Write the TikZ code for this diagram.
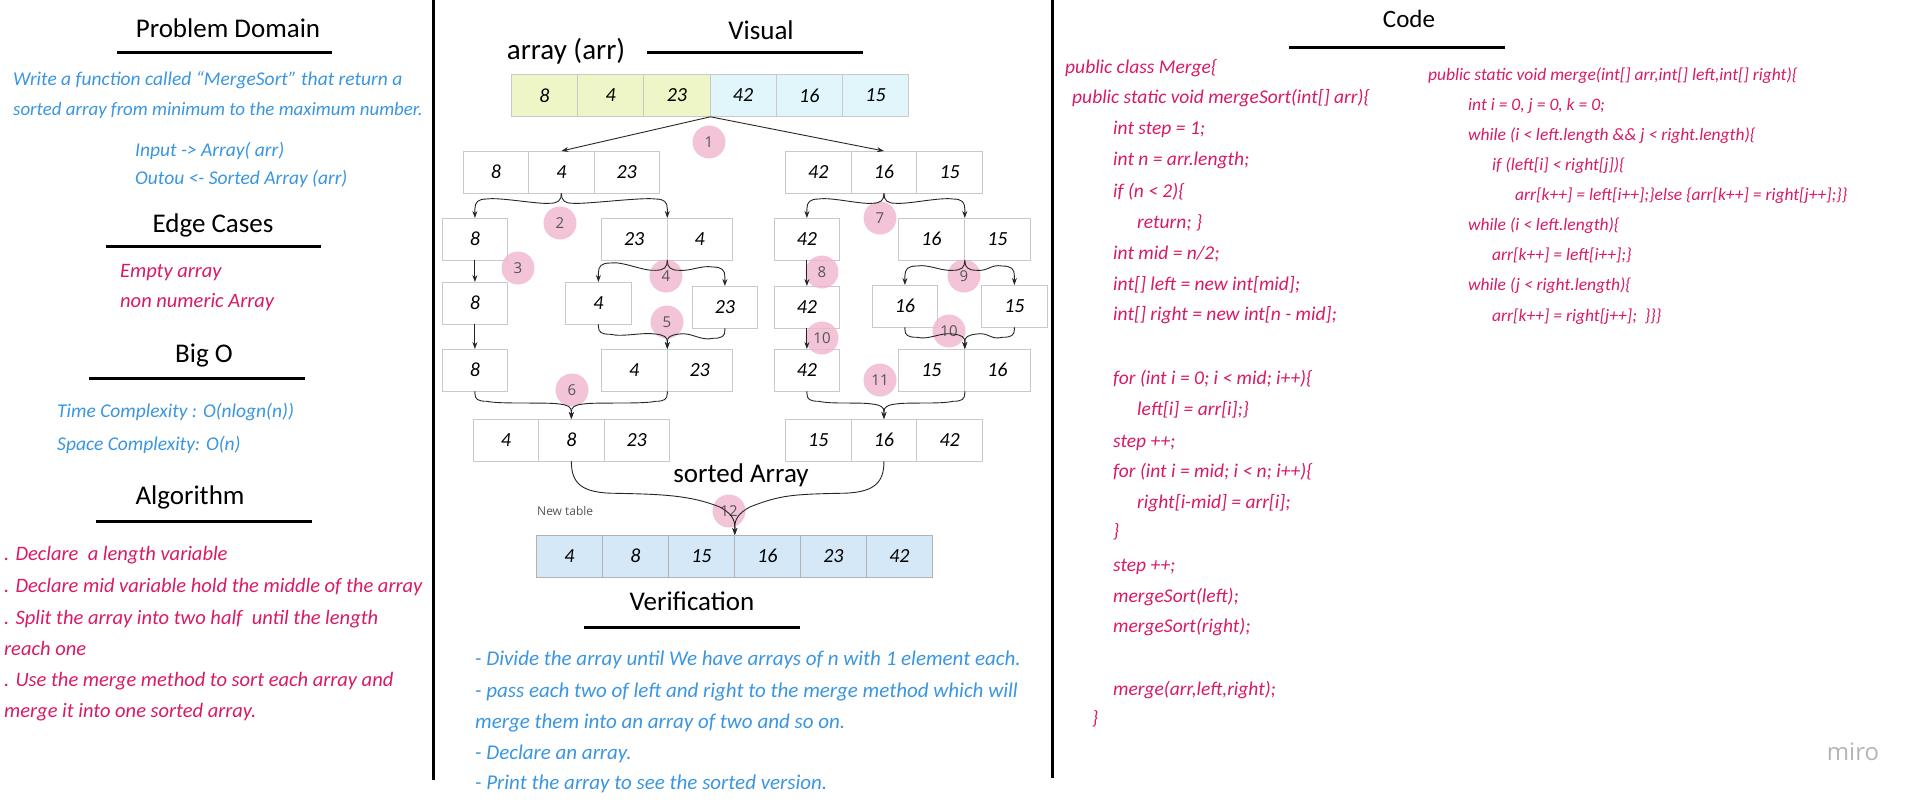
\documentclass[tikz,border=0pt]{standalone}
\usepackage{fontspec}
\setmainfont{Carlito}
\newfontfamily\sansnum{Open Sans}
\usetikzlibrary{arrows.meta,calc}
\definecolor{hblue}{HTML}{3A96E0}
\definecolor{hmag}{HTML}{D81B66}
\definecolor{cellgray}{HTML}{C9C9C9}
\definecolor{greenfill}{HTML}{EEF5C6}
\definecolor{cyanfill}{HTML}{E1F6FA}
\definecolor{bluefill}{HTML}{D5E8F8}
\definecolor{bubble}{HTML}{F0B4CE}
\definecolor{numgray}{HTML}{555555}
\definecolor{mirogray}{HTML}{B5B5B5}
\newcommand{\cellrow}[6][]{%
  \foreach \v [count=\i] in {#6} {%
    \node[cell,minimum width=#5,#1] (#2\i) at ({#3+(\i-1)*#5},{-#4}) {\v};}}
\newcommand{\splitbr}[3]{%
  \draw[conn] (#1) .. controls ($(#1)+(0,-7)$) and ($(#1)+({#3*3},-10)$) .. ($(#1)+({#3*12},-10)$)
   .. controls ($(#1)+({#3*24},-11)$) and ($(#2)+({#3*(-24)},21)$) .. ($(#2)+({#3*(-12)},19)$)
   .. controls ($(#2)+({#3*(-3)},19)$) and ($(#2)+(0,16)$) .. ($(#2)+(0,9)$) -- (#2);}
\newcommand{\mergebr}[3]{%
  \draw[conn] (#1) -- ($(#1)+(0,-2)$) .. controls ($(#1)+(0,-8)$) and ($(#1)+({#3*3},-10)$) .. ($(#1)+({#3*12},-10)$)
   .. controls ($(#1)+({#3*24},-13)$) and ($(#2)+({#3*(-24)},17)$) .. ($(#2)+({#3*(-12)},15)$)
   .. controls ($(#2)+({#3*(-3)},14)$) and ($(#2)+(0,12)$) .. ($(#2)+(0,7)$) -- (#2);}
\begin{document}
\begin{tikzpicture}[x=1pt,y=1pt,
  title/.style={font=\fontsize{27}{30}\selectfont, text=black, inner sep=0, anchor=mid},
  bluet/.style={font=\fontsize{19.5}{22}\selectfont\itshape, text=hblue, anchor=mid west, inner sep=0},
  magt/.style={font=\fontsize{20.5}{22}\selectfont\itshape, text=hmag, anchor=mid west, inner sep=0},
  verit/.style={font=\fontsize{21}{22}\selectfont\itshape, text=hblue, anchor=mid west, inner sep=0},
  codel/.style={font=\fontsize{19.5}{22}\selectfont\itshape, text=hmag, anchor=mid west, inner sep=0},
  coder/.style={font=\fontsize{17.5}{21}\selectfont\itshape, text=hmag, anchor=mid west, inner sep=0},
  uline/.style={line width=3pt, black},
  cell/.style={draw=cellgray, line width=0.8pt, minimum height=41.5, inner sep=0,
     font=\fontsize{20}{20}\selectfont\itshape, anchor=north west},
  conn/.style={draw=black!85, line width=0.9pt, -{Stealth[length=7pt,width=5pt]}},
  bub/.style={circle, fill=bubble, fill opacity=0.8, text opacity=1, minimum size=33, inner sep=0,
     text=numgray, font=\sansnum\fontsize{15}{15}\selectfont}]
\useasboundingbox (0,0) rectangle (1930,-809);
\fill[white] (0,0) rectangle (1930,-809);

% dividers
\draw[line width=3pt] (433,0) -- (433,-780);
\draw[line width=3pt] (1052,0) -- (1052,-778);

% ---------- left panel
\node[title] (tpd) at (228,-35) {Problem Domain};
\draw[uline] (117,-52) -- (332,-52);
\node[bluet] (pd1) at (13,-83) {Write a function called “MergeSort” that return a};
\node[bluet, font=\fontsize{18.9}{22}\selectfont\itshape] (pd2) at (13,-113) {sorted array from minimum to the maximum number.};
\node[bluet] (pd3) at (135,-154) {Input -> Array( arr)};
\node[bluet] (pd4) at (135,-182) {Outou <- Sorted Array (arr)};
\node[title] (tec) at (213,-230) {Edge Cases};
\draw[uline] (106,-246) -- (321,-246);
\node[magt] (ec1) at (120,-275) {Empty array};
\node[magt] (ec2) at (120,-305) {non numeric Array};
\node[title] (tbo) at (204,-360) {Big O};
\draw[uline] (89,-378) -- (305,-378);
\node[bluet] (bo1) at (57,-415) {Time Complexity : O(nlogn(n))};
\node[bluet] (bo2) at (57,-448) {Space Complexity: O(n)};
\node[title] (tal) at (190,-502) {Algorithm};
\draw[uline] (96,-521) -- (312,-521);
\node[magt] (al1) at (4,-558) {. Declare \ a length variable};
\node[magt] (al2) at (4,-590) {. Declare mid variable hold the middle of the array};
\node[magt] (al3) at (4,-622) {. Split the array into two half \ until the length};
\node[magt] (al4) at (4,-653) {reach one};
\node[magt] (al5) at (4,-684) {. Use the merge method to sort each array and};
\node[magt] (al6) at (4,-715) {merge it into one sorted array.};

% ---------- visual panel
\node[title] (tvis) at (761,-37) {Visual};
\draw[uline] (647,-52) -- (863,-52);
\node[title, font=\fontsize{29}{30}\selectfont] (tarr) at (566,-57) {array (arr)};

\cellrow[fill=greenfill, minimum height=42]{g}{511}{74}{66.2}{8,4,23}
\cellrow[fill=cyanfill, minimum height=42]{c}{709.6}{74}{66.2}{42,16,15}

\cellrow{r2l}{463}{151}{65.3}{8,4,23}
\cellrow{r2r}{785}{151}{65.7}{42,16,15}

\cellrow{r3a}{442}{218}{65}{8}
\cellrow{r3b}{601}{218}{65.5}{23,4}
\cellrow{r3c}{774}{218}{65}{42}
\cellrow{r3d}{898}{218}{66}{16,15}

\cellrow{r4a}{442}{282}{65}{8}
\cellrow{r4b}{565}{282}{66}{4}
\cellrow{r4c}{692}{286}{65}{23}
\cellrow{r4d}{774}{286}{65}{42}
\cellrow{r4e}{872}{285}{65}{16}
\cellrow{r4f}{981}{285}{66}{15}

\cellrow{r5a}{442}{349}{65}{8}
\cellrow{r5b}{601}{349}{65.5}{4,23}
\cellrow{r5c}{774}{349}{65}{42}
\cellrow{r5d}{898}{349}{66}{15,16}

\cellrow{r6l}{473}{419}{65.3}{4,8,23}
\cellrow{r6r}{785}{419}{65.7}{15,16,42}

\node[font=\sansnum\fontsize{12}{12}\selectfont, text=numgray, anchor=mid west, inner sep=0] (newt) at (537,-513) {New table};
\cellrow[fill=bluefill, draw=gray!60]{bt}{536}{535}{66}{4,8,15,16,23,42}

\node[title] (tsort) at (741,-480) {sorted Array};

% bubbles
\node[bub] (b1) at (709,-142) {1};
\node[bub] (b2) at (560,-223) {2};
\node[bub] (b3) at (518,-268) {3};
\node[bub] (b4) at (666,-276) {4};
\node[bub] (b5) at (667,-322) {5};
\node[bub] (b6) at (572,-390) {6};
\node[bub] (b7) at (880,-218) {7};
\node[bub] (b8) at (822,-272) {8};
\node[bub] (b9) at (964,-276) {9};
\node[bub] (b10) at (822,-338) {10};
\node[bub] (b10b) at (949,-331) {10};
\node[bub] (b11) at (880,-380) {11};
\node[bub] (b12) at (729,-511) {12};

% connectors
\draw[conn] (g3.south east) -- (r2l2.north);
\draw[conn] (g3.south east) -- (r2r2.north);
\splitbr{r2l2.south}{r3a1.north}{-1}
\splitbr{r2l2.south}{r3b1.north east}{1}
\draw[conn] (r3a1.south) -- (r4a1.north);
\splitbr{r3b1.south east}{r4b1.north}{-1}
\splitbr{r3b1.south east}{r4c1.north}{1}
\draw[conn] (r4a1.south) -- (r5a1.north);
\mergebr{r4b1.south}{r5b1.north east}{1}
\mergebr{r4c1.south}{r5b1.north east}{-1}
\mergebr{r5a1.south}{r6l2.north}{1}
\mergebr{r5b1.south east}{r6l2.north}{-1}
\splitbr{r2r2.south}{r3c1.north}{-1}
\splitbr{r2r2.south}{r3d1.north east}{1}
\draw[conn] (r3c1.south) -- (r4d1.north);
\splitbr{r3d1.south east}{r4e1.north}{-1}
\splitbr{r3d1.south east}{r4f1.north}{1}
\draw[conn] (r4d1.south) -- (r5c1.north);
\mergebr{r4e1.south}{r5d1.north east}{1}
\mergebr{r4f1.south}{r5d1.north east}{-1}
\mergebr{r5c1.south}{r6r2.north}{1}
\mergebr{r5d1.south east}{r6r2.north}{-1}
\draw[conn] (r6l2.south) .. controls ($(r6l2.south)+(0,-22)$) and ($(r6l2.south)+(10,-32)$) .. ($(r6l2.south)+(45,-32)$)
  .. controls ($(r6l2.south)+(90,-33)$) and ($(bt3.north east)+(-45,40)$) .. ($(bt3.north east)+(-15,28)$)
  .. controls ($(bt3.north east)+(-4,22)$) and ($(bt3.north east)+(0,16)$) .. ($(bt3.north east)+(0,8)$) -- (bt3.north east);
\draw[conn] (r6r2.south) .. controls ($(r6r2.south)+(0,-22)$) and ($(r6r2.south)+(-10,-32)$) .. ($(r6r2.south)+(-45,-32)$)
  .. controls ($(r6r2.south)+(-90,-33)$) and ($(bt3.north east)+(45,40)$) .. ($(bt3.north east)+(15,28)$)
  .. controls ($(bt3.north east)+(4,22)$) and ($(bt3.north east)+(0,16)$) .. ($(bt3.north east)+(0,8)$) -- (bt3.north east);

% verification
\node[title] (tver) at (692,-608) {Verification};
\draw[uline] (584,-627) -- (800,-627);
\node[verit] (v1) at (475,-663) {- Divide the array until We have arrays of n with 1 element each.};
\node[verit] (v2) at (475,-695) {- pass each two of left and right to the merge method which will};
\node[verit] (v3) at (475,-726) {merge them into an array of two and so on.};
\node[verit] (v4) at (475,-757) {- Declare an array.};
\node[verit] (v5) at (475,-787) {- Print the array to see the sorted version.};

% ---------- code panel
\node[title, font=\fontsize{25}{30}\selectfont] (tcode) at (1409,-25) {Code};
\draw[uline] (1289,-47) -- (1505,-47);
\node[codel] (cl1) at (1065,-71) {public class Merge\{};
\node[codel] (cl2) at (1072,-101) {public static void mergeSort(int[] arr)\{};
\node[codel] (cl3) at (1113,-132) {int step = 1;};
\node[codel] (cl4) at (1113,-163) {int n = arr.length;};
\node[codel] (cl5) at (1113,-195) {if (n < 2)\{};
\node[codel] (cl6) at (1137,-226) {return; \}};
\node[codel] (cl7) at (1113,-257) {int mid = n/2;};
\node[codel] (cl8) at (1113,-288) {int[] left = new int[mid];};
\node[codel] (cl9) at (1113,-318) {int[] right = new int[n - mid];};
\node[codel] (cl10) at (1113,-382) {for (int i = 0; i < mid; i++)\{};
\node[codel] (cl11) at (1137,-413) {left[i] = arr[i];\}};
\node[codel] (cl12) at (1113,-445) {step ++;};
\node[codel] (cl13) at (1113,-475) {for (int i = mid; i < n; i++)\{};
\node[codel] (cl14) at (1137,-506) {right[i-mid] = arr[i];};
\node[codel] (cl15) at (1113,-535) {\}};
\node[codel] (cl16) at (1113,-569) {step ++;};
\node[codel] (cl17) at (1113,-600) {mergeSort(left);};
\node[codel] (cl18) at (1113,-630) {mergeSort(right);};
\node[codel] (cl19) at (1113,-693) {merge(arr,left,right);};
\node[codel] (cl20) at (1092,-722) {\}};

\node[coder] (cr1) at (1428,-78) {public static void merge(int[] arr,int[] left,int[] right)\{};
\node[coder] (cr2) at (1468,-108) {int i = 0, j = 0, k = 0;};
\node[coder] (cr3) at (1468,-138) {while (i < left.length \&\& j < right.length)\{};
\node[coder] (cr4) at (1492,-168) {if (left[i] < right[j])\{};
\node[coder] (cr5) at (1515,-198) {arr[k++] = left[i++];\}else \{arr[k++] = right[j++];\}\}};
\node[coder] (cr6) at (1468,-228) {while (i < left.length)\{};
\node[coder] (cr7) at (1492,-258) {arr[k++] = left[i++];\}};
\node[coder] (cr8) at (1468,-288) {while (j < right.length)\{};
\node[coder] (cr9) at (1492,-319) {arr[k++] = right[j++]; \ \}\}\}};

\node[font=\sansnum\fontsize{24}{24}\selectfont, text=mirogray, inner sep=0, anchor=mid] (miro) at (1853,-758) {miro};
\end{tikzpicture}
\end{document}
